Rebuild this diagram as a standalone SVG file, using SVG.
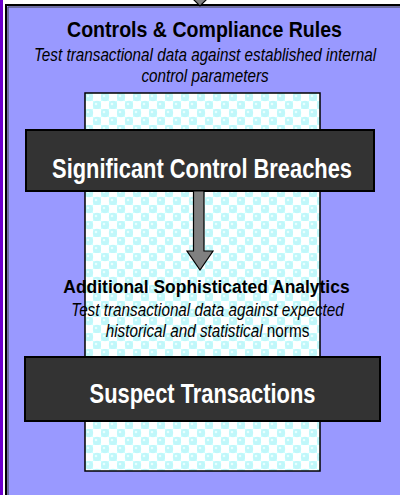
<svg xmlns="http://www.w3.org/2000/svg" width="400" height="495" viewBox="0 0 400 495">
  <defs>
    <!-- light cyan checker with bubbles -->
    <pattern id="bubbles" width="16" height="16" patternUnits="userSpaceOnUse" x="85" y="93">
      <rect width="16" height="16" fill="#ffffff"/>
      <rect x="0" y="0" width="8" height="8" fill="#ccffff"/>
      <rect x="8" y="8" width="8" height="8" fill="#ccffff"/>
      <circle cx="4" cy="4" r="4.2" fill="#b8f2f6" opacity="0.6"/>
      <circle cx="12" cy="12" r="4.2" fill="#b8f2f6" opacity="0.6"/>
      <circle cx="3" cy="3" r="1.3" fill="#e8ffff"/>
      <circle cx="11" cy="11" r="1.3" fill="#e8ffff"/>
    </pattern>
    <style>
      .title { font-family: "Liberation Sans", Arial, sans-serif; font-weight: bold; fill: #000; text-anchor: middle; }
      .desc { font-family: "Liberation Sans", Arial, sans-serif; font-style: italic; fill: #000; text-anchor: middle; font-size: 17.5px; }
      .bar { fill: #333333; stroke: #000; stroke-width: 2; }
      .barText { font-family: "Liberation Sans", Arial, sans-serif; font-weight: bold; fill: #ffffff; text-anchor: middle; font-size: 27px; }
      .arrow { fill: #808080; stroke: #000; stroke-width: 1.2; stroke-linejoin: miter; }
    </style>
  </defs>

  <rect width="400" height="495" fill="#ffffff"/>
  <!-- left edge accent -->
  <rect x="0" y="0" width="3" height="495" fill="#6a00cc"/>

  <!-- outer stage panel -->
  <g id="controls-panel">
    <rect x="6" y="5" width="400" height="500" fill="#9999ff" stroke="#000" stroke-width="2"/>
    <line x1="8" y1="7" x2="400" y2="7" stroke="#444" stroke-width="1"/>
    <line x1="8" y1="7" x2="8" y2="495" stroke="#444" stroke-width="1"/>
    <g transform="translate(204.5,0) scale(0.91,1)">
      <text class="title" x="0" y="37" font-size="21.5">Controls &amp; Compliance Rules</text>
    </g>
    <g transform="translate(205,0) scale(0.873,1)">
      <text class="desc" x="0" y="61.5">Test transactional data against established internal</text>
      <text class="desc" x="0" y="82">control parameters</text>
    </g>
  </g>

  <!-- incoming arrow tip from above -->
  <g id="incoming-arrow">
    <polygon class="arrow" points="193,-1 207,-1 200,6"/>
  </g>

  <!-- patterned column -->
  <g id="data-column">
    <rect x="85" y="93" width="235" height="378" fill="url(#bubbles)" stroke="#000" stroke-width="1.5"/>
  </g>

  <g id="breaches">
    <rect class="bar" x="26" y="130" width="348" height="61"/>
    <g transform="translate(202,0) scale(0.81,1)">
      <text class="barText" x="0" y="178.5">Significant Control Breaches</text>
    </g>
  </g>

  <g id="connectors">
    <polygon class="arrow" points="193.5,191 204,191 204,251 213,251 200,270 187,251 193.5,251"/>
  </g>

  <g id="analytics">
    <g transform="translate(206.5,0) scale(0.944,1)">
      <text class="title" x="0" y="293.5" font-size="18.5">Additional Sophisticated Analytics</text>
    </g>
    <g transform="translate(207.5,0) scale(0.873,1)">
      <text class="desc" x="0" y="316">Test transactional data against expected</text>
      <text class="desc" x="0" y="337.5">historical and statistical<tspan font-style="normal"> norms</tspan></text>
    </g>
  </g>

  <g id="suspect">
    <rect class="bar" x="25" y="357" width="355" height="64"/>
    <g transform="translate(202.5,0) scale(0.81,1)">
      <text class="barText" x="0" y="403.5">Suspect Transactions</text>
    </g>
  </g>
</svg>
